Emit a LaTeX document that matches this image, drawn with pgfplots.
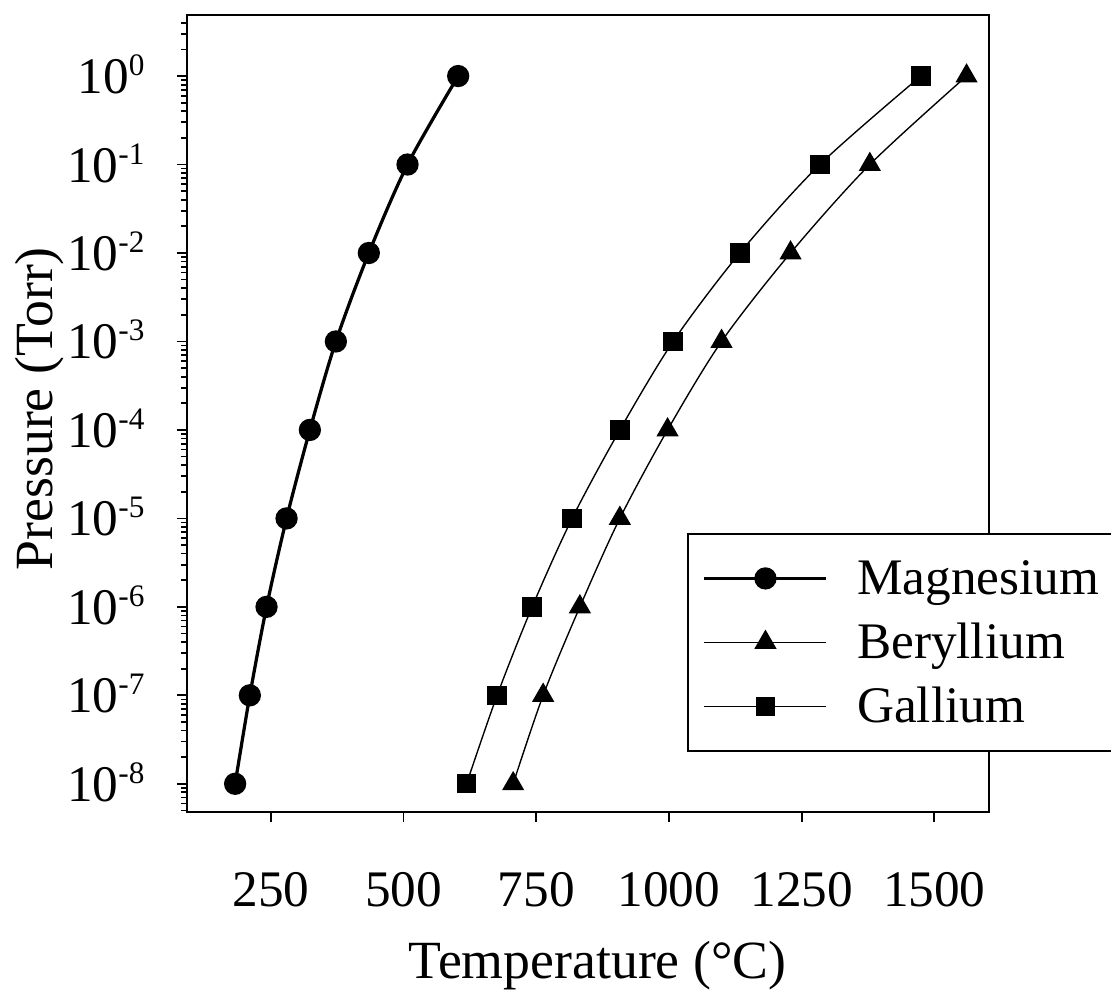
\documentclass[border=0pt]{standalone}
\usepackage{fontspec}
\setmainfont{Liberation Serif}
\usepackage{pgfplots}
\pgfplotsset{compat=1.18}
\newcommand{\tp}[1]{10\raisebox{7.2pt}{\fontsize{12.5}{12.5}\selectfont #1}}
\begin{document}
\begin{tikzpicture}
\begin{axis}[
  at={(0pt,0pt)}, anchor=south west,
  scale only axis, width=320.8pt, height=318.8pt,
  xmin=92, xmax=1603,
  ymode=log, ymin=4.8e-9, ymax=4.9,
  axis line style={line width=0.7pt, black},
  tick style={line width=0.7pt, black},
  tick align=outside,
  major tick length=4pt, minor tick length=2.2pt,
  xtick pos=left, ytick pos=left,
  xtick={250,500,750,1000,1250,1500},
  xticklabels={250,500,750,1000,1250,1500},
  ytick={1e-8,1e-7,1e-6,1e-5,1e-4,1e-3,1e-2,1e-1,1},
  yticklabels={\tp{-8},\tp{-7},\tp{-6},\tp{-5},\tp{-4},\tp{-3},\tp{-2},\tp{-1},\tp{0}},
  minor ytick={5e-9,6e-9,7e-9,8e-9,9e-9,
    2e-8,3e-8,4e-8,5e-8,6e-8,7e-8,8e-8,9e-8,
    2e-7,3e-7,4e-7,5e-7,6e-7,7e-7,8e-7,9e-7,
    2e-6,3e-6,4e-6,5e-6,6e-6,7e-6,8e-6,9e-6,
    2e-5,3e-5,4e-5,5e-5,6e-5,7e-5,8e-5,9e-5,
    2e-4,3e-4,4e-4,5e-4,6e-4,7e-4,8e-4,9e-4,
    2e-3,3e-3,4e-3,5e-3,6e-3,7e-3,8e-3,9e-3,
    2e-2,3e-2,4e-2,5e-2,6e-2,7e-2,8e-2,9e-2,
    2e-1,3e-1,4e-1,5e-1,6e-1,7e-1,8e-1,9e-1,
    2,3,4},
  xticklabel style={font=\fontsize{20.5}{24}\selectfont, anchor=base, inner sep=0pt, yshift=-34pt},
  yticklabel style={font=\fontsize{20.5}{24}\selectfont, anchor=base east, inner sep=0pt, xshift=-12.8pt, yshift=-7pt},
  xlabel={Temperature (°C)},
  ylabel={Pressure (Torr)},
  xlabel style={at={(axis description cs:0.512,0)}, anchor=base, yshift=-66.4pt, font=\fontsize{21.5}{25}\selectfont, inner sep=0pt},
  ylabel style={at={(axis description cs:-0.1671,0.506)}, anchor=base, font=\fontsize{21.5}{25}\selectfont, inner sep=0pt},
  legend cell align=left,
  legend image code/.code={\draw[mark repeat=2,mark phase=2,#1] plot coordinates {(0pt,0pt) (24.4pt,0pt) (48.8pt,0pt)};},
  legend style={at={(axis description cs:0.6234,0.350)}, anchor=north west,
    draw=black, line width=0.7pt, fill=white,
    font=\fontsize{20.5}{24}\selectfont,
    inner xsep=6pt, inner ysep=5pt, row sep=0pt,
    nodes={inner sep=0pt, text height=19.4pt, text depth=6.2pt},
    /tikz/every odd column/.append style={column sep=11.6pt}},
]
\addplot[black, line width=1.3pt, smooth, mark=*, mark size=3.8pt, mark options={solid, fill=black}]
  coordinates {(182.7,1e-8)(210.4,1e-7)(241.9,1e-6)(279.6,1e-5)(323.5,1e-4)(372.5,1e-3)(434.6,1e-2)(507.5,1e-1)(602.9,1)};
\addlegendentry{Magnesium}
\addplot[black, line width=0.55pt, smooth, mark=triangle*, mark size=4.6pt, mark options={solid, fill=black}]
  coordinates {(706.5,1e-8)(763,1e-7)(832.2,1e-6)(907.5,1e-5)(997.4,1e-4)(1099.1,1e-3)(1229.1,1e-2)(1378.5,1e-1)(1560.7,1)};
\addlegendentry{Beryllium}
\addplot[black, line width=0.55pt, smooth, mark=square*, mark size=3.6pt, mark options={solid, fill=black}]
  coordinates {(618.7,1e-8)(676.3,1e-7)(742.3,1e-6)(817.6,1e-5)(907.5,1e-4)(1007.9,1e-3)(1133.6,1e-2)(1284.3,1e-1)(1474.6,1)};
\addlegendentry{Gallium}
\end{axis}
\pgfresetboundingbox
\path[use as bounding box] (-74.8pt,-72.8pt) rectangle (369.6pt,324.8pt);
\end{tikzpicture}
\end{document}
